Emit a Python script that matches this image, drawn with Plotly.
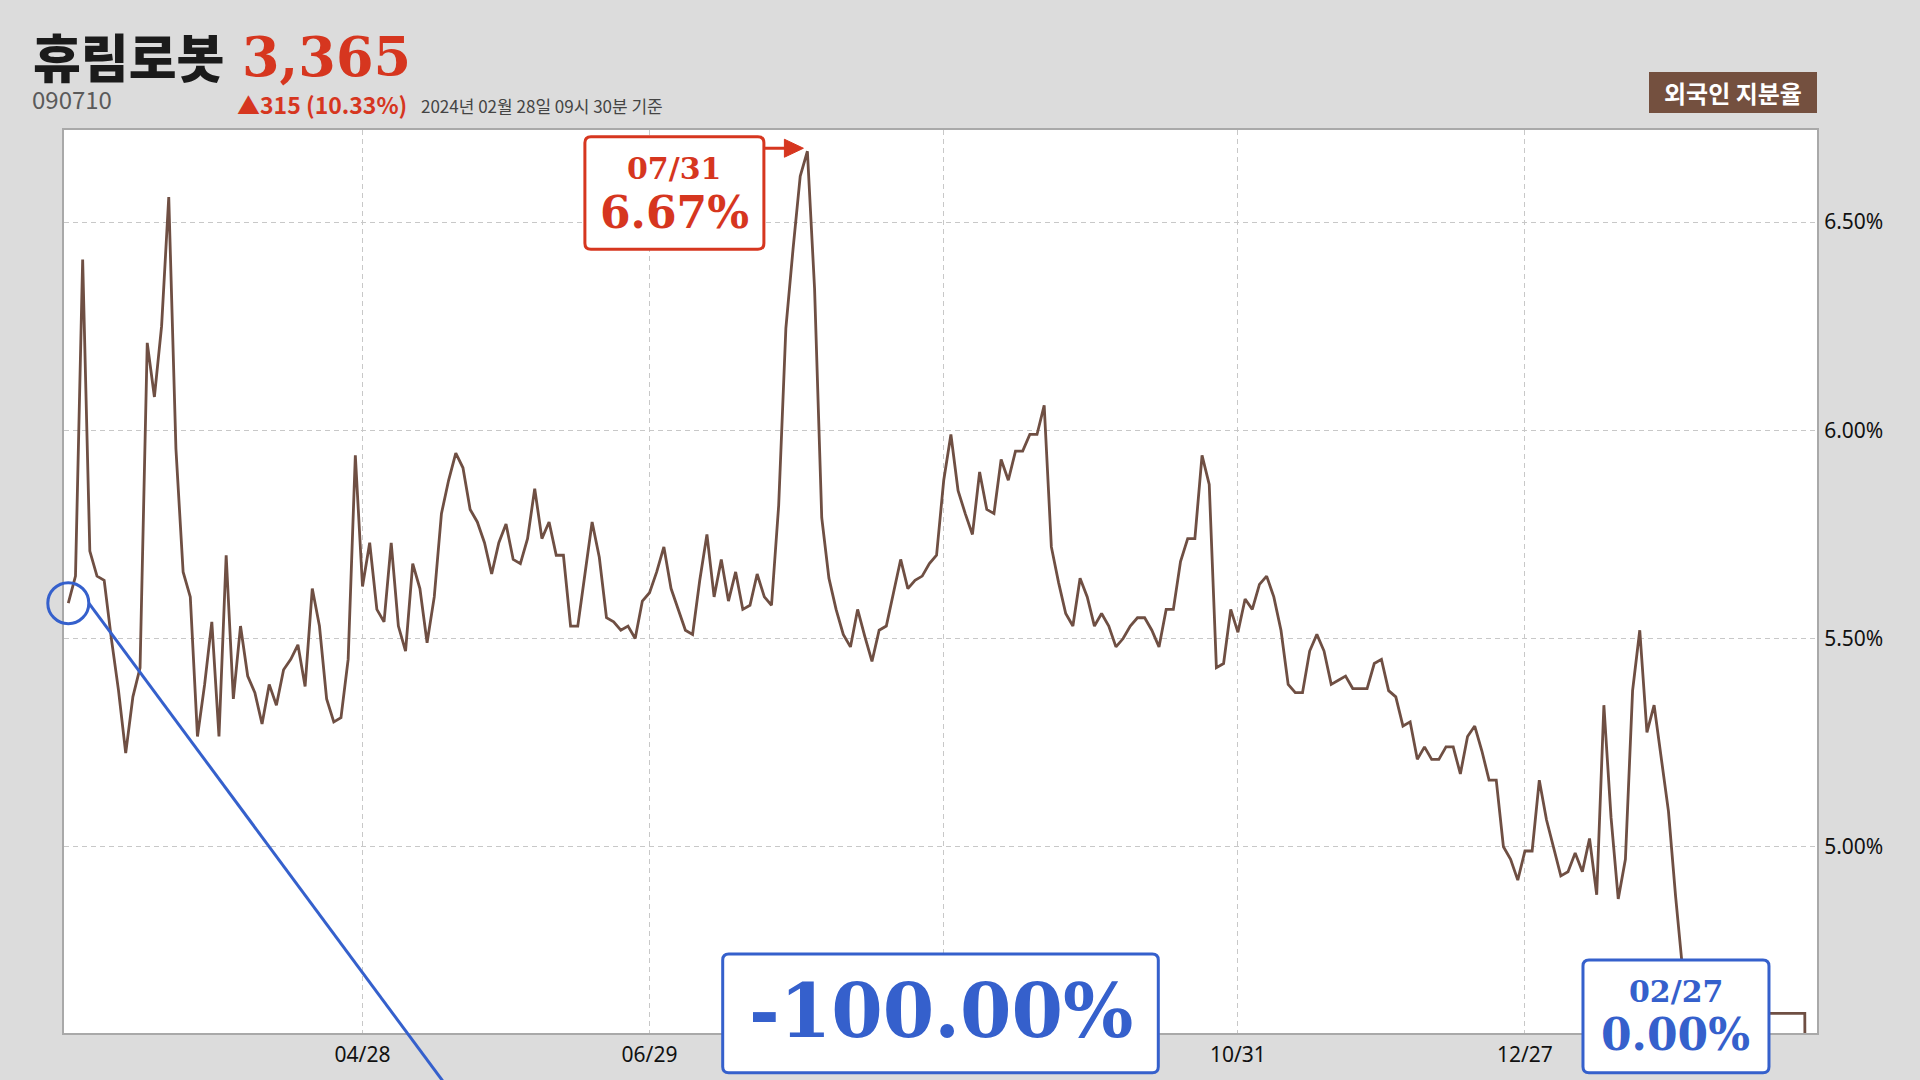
import plotly.graph_objects as go

# ---------------- data ----------------
stock_name = "휴림로봇"
stock_code = "090710"
price_text = "3,365"
change_text = "▲315 (10.33%)"
asof_text = "2024년 02월 28일 09시 30분 기준"
series_label = "외국인 지분율"

# foreign ownership ratio (%), one value per trading day (index 0 .. 243)
ratio = [
    5.585, 5.65, 6.41, 5.71, 5.65, 5.64, 5.50, 5.375, 5.225, 5.36,
    5.43, 6.21, 6.08, 6.25, 6.56, 5.955, 5.66, 5.60, 5.265, 5.39,
    5.54, 5.265, 5.70, 5.355, 5.53, 5.41, 5.37, 5.295, 5.39, 5.34,
    5.425, 5.45, 5.485, 5.385, 5.62, 5.53, 5.355, 5.30, 5.31, 5.45,
    5.94, 5.625, 5.73, 5.57, 5.54, 5.73, 5.53, 5.47, 5.68, 5.62,
    5.49, 5.60, 5.80, 5.88, 5.945, 5.91, 5.81, 5.78, 5.73, 5.655,
    5.73, 5.775, 5.69, 5.68, 5.74, 5.86, 5.74, 5.78, 5.70, 5.70,
    5.53, 5.53, 5.655, 5.78, 5.695, 5.55, 5.54, 5.52, 5.53, 5.50,
    5.59, 5.61, 5.66, 5.72, 5.62, 5.57, 5.52, 5.51, 5.64, 5.75,
    5.60, 5.69, 5.59, 5.66, 5.57, 5.58, 5.655, 5.60, 5.58, 5.82,
    6.245, 6.435, 6.61, 6.67, 6.34, 5.79, 5.645, 5.57, 5.51, 5.48,
    5.57, 5.505, 5.445, 5.52, 5.53, 5.61, 5.69, 5.62, 5.64, 5.65,
    5.68, 5.70, 5.88, 5.99, 5.855, 5.80, 5.75, 5.90, 5.81, 5.80,
    5.93, 5.88, 5.95, 5.95, 5.99, 5.99, 6.06, 5.72, 5.635, 5.56,
    5.53, 5.645, 5.60, 5.53, 5.56, 5.53, 5.48, 5.50, 5.53, 5.55,
    5.55, 5.52, 5.48, 5.57, 5.57, 5.685, 5.74, 5.74, 5.94, 5.87,
    5.43, 5.44, 5.57, 5.515, 5.595, 5.57, 5.63, 5.65, 5.60, 5.52,
    5.39, 5.37, 5.37, 5.47, 5.51, 5.47, 5.39, 5.40, 5.41, 5.38,
    5.38, 5.38, 5.44, 5.45, 5.375, 5.36, 5.29, 5.30, 5.21, 5.24,
    5.21, 5.21, 5.24, 5.24, 5.175, 5.265, 5.29, 5.23, 5.16, 5.16,
    5.00, 4.97, 4.92, 4.99, 4.99, 5.16, 5.065, 5.00, 4.93, 4.94,
    4.985, 4.94, 5.02, 4.885, 5.34, 5.07, 4.875, 4.97, 5.375, 5.52,
    5.275, 5.34, 5.21, 5.085, 4.88, 4.70, 4.60, 4.60, 4.60, 4.60,
    4.60, 4.60, 4.60, 4.60, 4.60, 4.60, 4.60, 4.60, 4.60, 4.60,
    4.60, 4.60, 4.60, 0.00,
]
day_index = list(range(len(ratio)))

# the middle tick (08/28) is hidden under the change box in the reference
x_tick_index = [41, 81, 122, 163, 203]
x_tick_labels = ["04/28", "06/29", "", "10/31", "12/27"]
y_tick_values = [5.0, 5.5, 6.0, 6.5]
y_tick_labels = [f"{v:.2f}%" for v in y_tick_values]

peak_label = "07/31"
last_label = "02/27"

# ---------------- styling / geometry ----------------
W, H = 1920, 1080
L, R, T, B = 64, 1817, 130, 1033
XR = [-0.6, 243.7]
YR = [4.553, 6.721]

BG = "#dcdcdc"
BROWN = "#6f4f43"
RED = "#d6361f"
BLUE = "#3560cc"
SERIF = "DejaVu Serif"
SANS = "Noto Sans"
KR = "Noto Sans CJK KR"


def dpx(i):
    return L + (i - XR[0]) / (XR[1] - XR[0]) * (R - L)


def dpy(v):
    return B - (v - YR[0]) / (YR[1] - YR[0]) * (B - T)


def ppx(x):
    return (x - L) / (R - L)


def ppy(y):
    return (B - y) / (B - T)


def pt(x, y):
    return f"{ppx(x)},{ppy(y)}"


def rrect(x0, y0, x1, y1, r):
    return (
        f"M {pt(x0 + r, y0)} L {pt(x1 - r, y0)} Q {pt(x1, y0)} {pt(x1, y0 + r)} "
        f"L {pt(x1, y1 - r)} Q {pt(x1, y1)} {pt(x1 - r, y1)} "
        f"L {pt(x0 + r, y1)} Q {pt(x0, y1)} {pt(x0, y1 - r)} "
        f"L {pt(x0, y0 + r)} Q {pt(x0, y0)} {pt(x0 + r, y0)} Z"
    )


fig = go.Figure()
fig.add_trace(
    go.Scatter(
        x=day_index,
        y=ratio,
        mode="lines",
        line=dict(color=BROWN, width=2.8),
        hoverinfo="skip",
        showlegend=False,
    )
)

shapes = []
annotations = []

# ---- header ----
annotations += [
    dict(x=ppx(31), y=ppy(55), text=stock_name, xanchor="left", yanchor="middle",
         font=dict(family=KR, size=52, color="#1b1b1b", weight=900)),
    dict(x=ppx(240), y=ppy(57), text=price_text, xanchor="left", yanchor="middle",
         font=dict(family=SERIF, size=54, color=RED, weight="bold")),
    dict(x=ppx(30), y=ppy(98), text=stock_code, xanchor="left", yanchor="middle",
         font=dict(family=KR, size=24, color="#5a5a5a")),
    dict(x=ppx(235), y=ppy(104), text=change_text, xanchor="left", yanchor="middle",
         font=dict(family=KR, size=23, color=RED, weight="bold")),
    dict(x=ppx(419), y=ppy(105.5), text=asof_text, xanchor="left", yanchor="middle",
         font=dict(family=KR, size=17, color="#444444")),
]

# series label box
shapes.append(dict(type="rect", xref="paper", yref="paper",
                   x0=ppx(1649), x1=ppx(1817), y0=ppy(113), y1=ppy(72),
                   fillcolor="#74503f", line=dict(width=0), layer="above"))
annotations.append(dict(x=ppx(1733), y=ppy(92.5), text=series_label,
                        xanchor="center", yanchor="middle",
                        font=dict(family=KR, size=24, color="white", weight="bold")))

# ---- start circle and connector toward last value ----
cx, cy = dpx(day_index[0]), dpy(ratio[0])
rad = 20.5
shapes.append(dict(type="circle", xref="paper", yref="paper",
                   x0=ppx(cx - rad), x1=ppx(cx + rad), y0=ppy(cy + rad), y1=ppy(cy - rad),
                   line=dict(color=BLUE, width=3), fillcolor="rgba(0,0,0,0)", layer="above"))
ex, ey = dpx(day_index[-1]), dpy(ratio[-1])
shapes.append(dict(type="line", xref="paper", yref="paper",
                   x0=ppx(cx + rad), y0=ppy(cy), x1=ppx(ex), y1=ppy(ey),
                   line=dict(color=BLUE, width=3), layer="above"))

# ---- peak callout ----
ipk = max(range(len(ratio)), key=lambda i: ratio[i])
pkx, pky = dpx(day_index[ipk]), dpy(ratio[ipk])
bx1 = pkx - 43.5
bx0 = bx1 - 179
by0 = pky - 14.5
by1 = by0 + 112.5
shapes.append(dict(type="path", xref="paper", yref="paper", path=rrect(bx0, by0, bx1, by1, 6),
                   fillcolor="white", line=dict(color=RED, width=3), layer="above"))
ay = pky - 3
shapes.append(dict(type="line", xref="paper", yref="paper",
                   x0=ppx(bx1), y0=ppy(ay), x1=ppx(pkx - 20), y1=ppy(ay),
                   line=dict(color=RED, width=3), layer="above"))
shapes.append(dict(type="path", xref="paper", yref="paper",
                   path=f"M {pt(pkx - 23, ay - 9)} L {pt(pkx - 4, ay)} L {pt(pkx - 23, ay + 9)} Z",
                   fillcolor=RED, line=dict(color=RED, width=1), layer="above"))
bcx = (bx0 + bx1) / 2
annotations += [
    dict(x=ppx(bcx), y=ppy(by0 + 31.5), text=peak_label, xanchor="center", yanchor="middle",
         font=dict(family=SERIF, size=30, color=RED, weight="bold")),
    dict(x=ppx(bcx), y=ppy(by0 + 76), text=f"{ratio[ipk]:.2f}%", xanchor="center", yanchor="middle",
         font=dict(family=SERIF, size=44, color=RED, weight="bold")),
]

# ---- last value callout ----
lbx1 = ex - 43
lbx0 = lbx1 - 186
lby0, lby1 = 960, 1072.7
shapes.append(dict(type="path", xref="paper", yref="paper", path=rrect(lbx0, lby0, lbx1, lby1, 6),
                   fillcolor="white", line=dict(color=BLUE, width=3), layer="above"))
lcx = (lbx0 + lbx1) / 2
annotations += [
    dict(x=ppx(lcx), y=ppy(lby0 + 31), text=last_label, xanchor="center", yanchor="middle",
         font=dict(family=SERIF, size=30, color=BLUE, weight="bold")),
    dict(x=ppx(lcx), y=ppy(lby0 + 74.5), text=f"{ratio[-1]:.2f}%", xanchor="center", yanchor="middle",
         font=dict(family=SERIF, size=44, color=BLUE, weight="bold")),
]

# ---- total change box ----
chg = (ratio[-1] - ratio[0]) / ratio[0] * 100
mx0, mx1 = 722.7, 1158.3
my0, my1 = 954, 1072.7
shapes.append(dict(type="path", xref="paper", yref="paper", path=rrect(mx0, my0, mx1, my1, 6),
                   fillcolor="white", line=dict(color=BLUE, width=3), layer="above"))
annotations.append(dict(x=ppx((mx0 + mx1) / 2), y=ppy(1011), text=f"{chg:.2f}%",
                        xanchor="center", yanchor="middle",
                        font=dict(family=SERIF, size=74, color=BLUE, weight="bold")))

for a in annotations:
    a.setdefault("xref", "paper")
    a.setdefault("yref", "paper")
    a.setdefault("showarrow", False)

fig.update_layout(
    width=W,
    height=H,
    margin=dict(l=L, r=W - R, t=T, b=H - B, pad=0),
    paper_bgcolor=BG,
    plot_bgcolor="white",
    showlegend=False,
    shapes=shapes,
    annotations=annotations,
    xaxis=dict(
        range=XR,
        tickmode="array",
        tickvals=x_tick_index,
        ticktext=x_tick_labels,
        showgrid=True,
        gridcolor="#c8c8c8",
        gridwidth=1,
        griddash="5px,4px",
        zeroline=False,
        showline=True,
        mirror=True,
        linecolor="#a9a9a9",
        linewidth=2,
        ticks="",
        ticklabelstandoff=2,
        tickfont=dict(family=SANS, size=21, color="#111111"),
    ),
    yaxis=dict(
        range=YR,
        side="right",
        tickmode="array",
        tickvals=y_tick_values,
        ticktext=y_tick_labels,
        showgrid=True,
        gridcolor="#c8c8c8",
        gridwidth=1,
        griddash="5px,4px",
        zeroline=False,
        showline=True,
        mirror=True,
        linecolor="#a9a9a9",
        linewidth=2,
        ticks="",
        ticklabelstandoff=1,
        tickfont=dict(family=SANS, size=21, color="#111111"),
    ),
)

fig.write_html(
    "out.html",
    config={"displayModeBar": False},
    post_script="document.body.style.margin='0';document.body.style.background='#dcdcdc';",
)
